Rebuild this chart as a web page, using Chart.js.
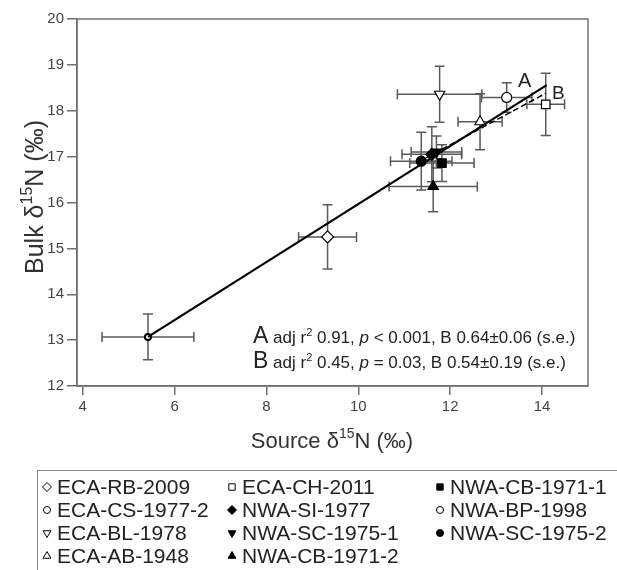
<!DOCTYPE html>
<html>
<head>
<meta charset="utf-8">
<script src="https://cdn.jsdelivr.net/npm/chart.js@4"></script>
<style>
  html, body { margin: 0; padding: 0; background: #fff; }
  #wrap { width: 617px; height: 570px; }
</style>
</head>
<body>
<div id="wrap"><canvas id="plotHere" width="617" height="570"></canvas></div>
<script>
// sites, in legend order (column by column)
const siteNames = ["ECA-RB-2009", "ECA-CS-1977-2", "ECA-BL-1978", "ECA-AB-1948",
                   "ECA-CH-2011", "NWA-SI-1977", "NWA-SC-1975-1", "NWA-CB-1971-2",
                   "NWA-CB-1971-1", "NWA-BP-1998", "NWA-SC-1975-2"];
// source d15N and its error
const sourceN = [9.33, 13.23, 11.77, 12.65, 14.08, 11.60, 11.70, 11.63, 11.82, 5.42, 11.37];
const sourceErr = [0.63, 0.55, 0.92, 0.48, 0.41, 0.65, 0.55, 0.96, 0.70, 1.00, 0.67];
// bulk d15N and its error
const bulkN = [15.25, 18.29, 18.36, 17.76, 18.14, 17.05, 17.10, 16.35, 16.86, 13.07, 16.90];
const bulkErr = [0.70, 0.32, 0.61, 0.61, 0.68, 0.60, 0.35, 0.55, 0.40, 0.50, 0.63];
// marker look for each site
const markerStyle = ["rectRot", "circle", "triangle", "triangle", "rect", "rectRot",
                     "triangle", "triangle", "rect", "circle", "circle"];
const markerRot = [0, 0, 180, 0, 0, 0, 180, 0, 0, 0, 0];
const markerFilled = [false, false, false, false, false, true, true, true, true, false, true];
const markerSize = [6, 5, 6, 6, 6, 6, 6, 6, 6, 3, 5];

// regression lines A (all) and B
const lineAX = [5.42, 14.10], lineAY = [13.07, 18.56];
const lineBX = [11.30, 14.08], lineBY = [16.88, 18.38];

const xTicks = [4, 6, 8, 10, 12, 14];
const yTicks = [12, 13, 14, 15, 16, 17, 18, 19, 20];

const statA = ["adj r", "0.91, ", "p", " < 0.001, B 0.64\u00b10.06 (s.e.)"];
const statB = ["adj r", "0.45, ", "p", " = 0.03, B 0.54\u00b10.19 (s.e.)"];

const FONT = "'Liberation Sans', Arial, sans-serif";
const AXIS = "#707070";

let datasets = [];
for (let i = 0; i < siteNames.length; i++) {
	datasets.push({
		label: siteNames[i],
		data: [{ x: sourceN[i], y: bulkN[i] }],
		pointStyle: markerStyle[i],
		rotation: markerRot[i],
		radius: markerSize[i],
		hoverRadius: markerSize[i],
		borderWidth: markerSize[i] < 4 ? 2 : 1.2,
		borderColor: "#000",
		backgroundColor: markerFilled[i] ? "#000" : "#fff",
		order: 1
	});
}
datasets.push({
	type: "line", label: "A",
	data: lineAX.map((v, k) => ({ x: v, y: lineAY[k] })),
	borderColor: "#000", borderWidth: 2.2, pointRadius: 0, fill: false, order: 0
});
datasets.push({
	type: "line", label: "B",
	data: lineBX.map((v, k) => ({ x: v, y: lineBY[k] })),
	borderColor: "#000", borderWidth: 1.5, borderDash: [6, 3], pointRadius: 0, fill: false, order: 0
});

// error bars under the markers
const errorBars = {
	id: "errorBars",
	beforeDatasetsDraw(chart) {
		const ctx = chart.ctx, xs = chart.scales.x, ys = chart.scales.y;
		const cap = 5;
		ctx.save();
		ctx.strokeStyle = "#5a5a5a";
		ctx.lineWidth = 1.5;
		for (let i = 0; i < siteNames.length; i++) {
			const px = xs.getPixelForValue(sourceN[i]), py = ys.getPixelForValue(bulkN[i]);
			const x0 = xs.getPixelForValue(sourceN[i] - sourceErr[i]);
			const x1 = xs.getPixelForValue(sourceN[i] + sourceErr[i]);
			const y0 = ys.getPixelForValue(bulkN[i] - bulkErr[i]);
			const y1 = ys.getPixelForValue(bulkN[i] + bulkErr[i]);
			ctx.beginPath();
			ctx.moveTo(x0, py); ctx.lineTo(x1, py);
			ctx.moveTo(x0, py - cap); ctx.lineTo(x0, py + cap);
			ctx.moveTo(x1, py - cap); ctx.lineTo(x1, py + cap);
			ctx.moveTo(px, y0); ctx.lineTo(px, y1);
			ctx.moveTo(px - cap, y0); ctx.lineTo(px + cap, y0);
			ctx.moveTo(px - cap, y1); ctx.lineTo(px + cap, y1);
			ctx.stroke();
		}
		ctx.restore();
	}
};

// text with a superscript part
function supText(ctx, parts, x, y) {
	// parts: [text, size, style, dy]
	for (const p of parts) {
		ctx.font = (p[2] || "") + " " + p[1] + "px " + FONT;
		ctx.fillText(p[0], x, y + (p[3] || 0));
		x += ctx.measureText(p[0]).width;
	}
	return x;
}
function partsWidth(ctx, parts) {
	let w = 0;
	for (const p of parts) { ctx.font = (p[2] || "") + " " + p[1] + "px " + FONT; w += ctx.measureText(p[0]).width; }
	return w;
}

const decorations = {
	id: "decorations",
	afterDraw(chart) {
		const ctx = chart.ctx, a = chart.chartArea;
		ctx.save();
		// frame
		ctx.strokeStyle = AXIS;
		ctx.lineWidth = 1.5;
		ctx.strokeRect(a.left, a.top, a.right - a.left, a.bottom - a.top);

		ctx.fillStyle = "#222";
		ctx.textBaseline = "alphabetic";
		ctx.textAlign = "left";
		// line labels
		ctx.font = "20px " + FONT;
		ctx.fillText("A", 518, 87);
		ctx.font = "19px " + FONT;
		ctx.fillText("B", 552, 99);

		// statistics
		let x = supText(ctx, [["A", 23], [" ", 17]], 253, 343);
		supText(ctx, [[statA[0], 17], ["2", 11, "", -7], [" " + statA[1], 17], [statA[2], 17, "italic"], [statA[3], 17]], x, 343);
		x = supText(ctx, [["B", 23], [" ", 17]], 253, 368);
		supText(ctx, [[statB[0], 17], ["2", 11, "", -7], [" " + statB[1], 17], [statB[2], 17, "italic"], [statB[3], 17]], x, 368);

		// axis titles
		ctx.fillStyle = "#333";
		const partsX = [["Source \u03b4", 22], ["15", 14, "", -10], ["N (\u2030)", 22]];
		supText(ctx, partsX, 332 - partsWidth(ctx, partsX) / 2, 448);

		ctx.save();
		ctx.translate(43, 197);
		ctx.rotate(-Math.PI / 2);
		const partsY = [["Bulk \u03b4", 25], ["15", 16, "", -11], ["N (\u2030)", 25]];
		supText(ctx, partsY, -partsWidth(ctx, partsY) / 2, 0);
		ctx.restore();

		// legend box
		ctx.strokeStyle = "#888";
		ctx.lineWidth = 1;
		ctx.strokeRect(37.5, 470.5, 640, 120);
		const colX = [47, 232, 440], rowY = [487, 510, 533, 556];
		const perCol = [4, 4, 3];
		let k = 0;
		ctx.font = "21px " + FONT;
		ctx.textBaseline = "middle";
		for (let c = 0; c < 3; c++) {
			for (let r = 0; r < perCol[c]; r++, k++) {
				ctx.fillStyle = markerFilled[k] ? "#000" : "#fff";
				ctx.strokeStyle = "#000";
				ctx.lineWidth = 1;
				Chart.helpers.drawPoint(ctx, {
					pointStyle: markerStyle[k], rotation: markerRot[k],
					radius: markerStyle[k] === "circle" ? 3.5 : 4.5,
					borderWidth: 1
				}, colX[c], rowY[r]);
				ctx.fillStyle = "#222";
				ctx.font = "21px " + FONT;
				ctx.fillText(siteNames[k], colX[c] + 10, rowY[r] + 1);
			}
		}
		ctx.restore();
	}
};

const plot = new Chart(document.getElementById("plotHere").getContext("2d"), {
	type: "scatter",
	data: { datasets: datasets },
	options: {
		responsive: false,
		animation: false,
		layout: { padding: { left: 0, top: 19, right: 29, bottom: 144 } },
		plugins: { legend: { display: false }, tooltip: { enabled: false } },
		scales: {
			x: {
				type: "linear", min: 3.875, max: 15,
				afterBuildTicks: s => { s.ticks = xTicks.map(v => ({ value: v })); },
				afterFit: s => { s.height = 40; },
				grid: { drawOnChartArea: false, drawTicks: true, tickLength: 9, color: AXIS, lineWidth: 1.5 },
				border: { color: AXIS, width: 1.5 },
				ticks: { color: "#444", font: { family: FONT, size: 15 }, padding: 3 }
			},
			y: {
				type: "linear", min: 12, max: 20,
				afterBuildTicks: s => { s.ticks = yTicks.map(v => ({ value: v })); },
				afterFit: s => { s.width = 77; },
				grid: { drawOnChartArea: false, drawTicks: true, tickLength: 10, color: AXIS, lineWidth: 1.5 },
				border: { color: AXIS, width: 1.5 },
				ticks: { color: "#444", font: { family: FONT, size: 15 }, padding: 3 }
			}
		}
	},
	plugins: [errorBars, decorations]
});
</script>
</body>
</html>
